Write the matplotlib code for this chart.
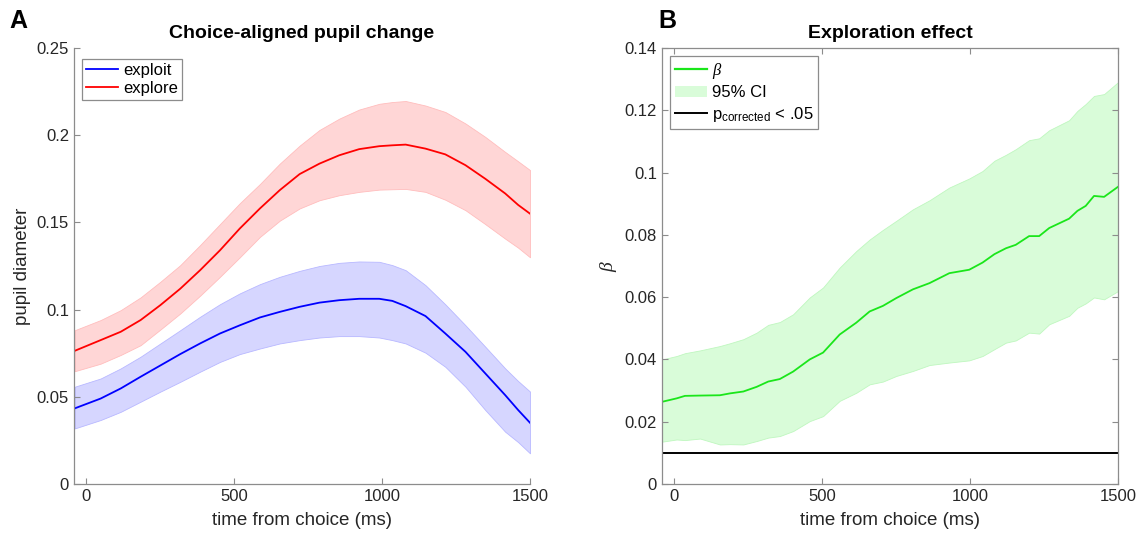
import numpy as np
import matplotlib.pyplot as plt
from matplotlib.patches import Patch
from matplotlib.lines import Line2D

plt.rcParams['font.family'] = ['Liberation Sans', 'DejaVu Sans']
plt.rcParams['mathtext.fontset'] = 'custom'
plt.rcParams['mathtext.it'] = 'Liberation Serif:italic'

# pupil time courses (ms from choice)
t_pupil = [-37, 50, 118, 185, 252, 319, 386, 453, 520, 588, 655, 722, 789,
           856, 923, 991, 1035, 1080, 1147, 1214, 1282, 1349, 1416, 1460, 1500]

explore_mean = [0.0764, 0.0825, 0.0873, 0.094, 0.1026, 0.112, 0.1226, 0.134,
                0.1465, 0.158, 0.1685, 0.1777, 0.1837, 0.1885, 0.192, 0.1937,
                0.1942, 0.1946, 0.1923, 0.189, 0.1828, 0.175, 0.1666, 0.160,
                0.155]
explore_hi = [0.0882, 0.094, 0.0997, 0.107, 0.116, 0.1255, 0.137, 0.149,
              0.161, 0.172, 0.1837, 0.194, 0.203, 0.2095, 0.2147, 0.218,
              0.219, 0.2196, 0.217, 0.2133, 0.2067, 0.199, 0.1904, 0.185,
              0.180]
explore_lo = [0.0647, 0.069, 0.074, 0.0796, 0.0886, 0.0978, 0.108, 0.1188,
              0.130, 0.1417, 0.151, 0.158, 0.1627, 0.1656, 0.1675, 0.1688,
              0.169, 0.1692, 0.1675, 0.163, 0.157, 0.149, 0.1407, 0.1355,
              0.130]

exploit_mean = [0.0434, 0.049, 0.0548, 0.0615, 0.068, 0.0745, 0.0806, 0.0863,
                0.091, 0.0955, 0.0987, 0.1016, 0.104, 0.1054, 0.1062, 0.1062,
                0.105, 0.102, 0.0963, 0.0863, 0.0758, 0.0634, 0.051, 0.0424,
                0.0351]
exploit_hi = [0.0558, 0.0605, 0.0663, 0.073, 0.0806, 0.0882, 0.0959, 0.1031,
              0.1093, 0.1146, 0.1188, 0.1222, 0.125, 0.1268, 0.1276, 0.1274,
              0.1255, 0.1226, 0.114, 0.103, 0.091, 0.0787, 0.0663, 0.059,
              0.053]
exploit_lo = [0.0319, 0.0367, 0.0414, 0.0472, 0.053, 0.0586, 0.0644, 0.070,
              0.0745, 0.0777, 0.0806, 0.0825, 0.084, 0.0848, 0.0848, 0.084,
              0.0825, 0.0806, 0.0753, 0.0672, 0.0558, 0.0424, 0.030, 0.024,
              0.0176]

# regression weight of exploration
t_beta = [-39, 10, 38, 89, 156, 190, 235, 280, 319, 358, 403, 459, 504, 560,
          616, 661, 706, 751, 807, 863, 930, 997, 1042, 1082, 1121, 1154,
          1199, 1233, 1267, 1334, 1362, 1390, 1418, 1452, 1500]
beta_mean = [0.0264, 0.0275, 0.0283, 0.0284, 0.0285, 0.0291, 0.0297, 0.0312,
             0.0329, 0.0337, 0.0361, 0.040, 0.0422, 0.048, 0.0518, 0.0554,
             0.0572, 0.0597, 0.0625, 0.0645, 0.0677, 0.0688, 0.0711, 0.0738,
             0.0757, 0.0768, 0.0796, 0.0796, 0.0822, 0.0852, 0.0877, 0.0893,
             0.0925, 0.0922, 0.0955]
beta_hi = [0.040, 0.0411, 0.042, 0.0429, 0.0443, 0.0452, 0.0465, 0.0486,
           0.0511, 0.052, 0.0545, 0.0599, 0.0631, 0.0695, 0.0748, 0.0785,
           0.0816, 0.0845, 0.0882, 0.0911, 0.0952, 0.0981, 0.1005, 0.1038,
           0.1057, 0.1075, 0.1104, 0.111, 0.1136, 0.1168, 0.1198, 0.122,
           0.1246, 0.1252, 0.1291]
beta_lo = [0.0136, 0.0143, 0.0141, 0.0146, 0.0127, 0.0128, 0.0127, 0.0138,
           0.0149, 0.0154, 0.017, 0.0202, 0.0218, 0.0267, 0.0293, 0.032,
           0.0329, 0.0347, 0.0363, 0.0382, 0.039, 0.0397, 0.0411, 0.0433,
           0.0454, 0.0461, 0.0486, 0.0483, 0.0513, 0.054, 0.0566, 0.058,
           0.0599, 0.0593, 0.062]
sig_level = 0.01

xticks = [0, 500, 1000, 1500]
axcol = '#8c8c8c'
txtcol = '#262626'

fig = plt.figure(figsize=(11.47, 5.35), dpi=100)
ax1 = fig.add_axes([0.0645, 0.0953, 0.3976, 0.815])
ax2 = fig.add_axes([0.577, 0.0953, 0.398, 0.815])


def style(ax, boxed):
    for side in ['left', 'bottom', 'top', 'right']:
        ax.spines[side].set_color(axcol)
        ax.spines[side].set_linewidth(0.9)
    if not boxed:
        ax.spines['top'].set_visible(False)
        ax.spines['right'].set_visible(False)
    ax.tick_params(direction='in', length=4, width=0.8, color=axcol,
                   labelcolor=txtcol, labelsize=12, top=boxed, right=boxed)
    ax.set_xlim(-40, 1500)
    ax.set_xticks(xticks)
    ax.set_xlabel('time from choice (ms)', fontsize=13.5, color=txtcol,
                  labelpad=6)


# panel A
ax1.fill_between(t_pupil, exploit_lo, exploit_hi, facecolor=(0.84, 0.84, 1.0),
                 edgecolor=(0.72, 0.72, 1.0), linewidth=0.6)
ax1.fill_between(t_pupil, explore_lo, explore_hi, facecolor=(1.0, 0.84, 0.84),
                 edgecolor=(1.0, 0.74, 0.74), linewidth=0.6)
ax1.plot(t_pupil, exploit_mean, color='blue', lw=1.3, label='exploit')
ax1.plot(t_pupil, explore_mean, color='red', lw=1.3, label='explore')
style(ax1, False)
ax1.set_ylim(0, 0.25)
ax1.set_yticks([0, 0.05, 0.1, 0.15, 0.2, 0.25])
ax1.set_yticklabels(['0', '0.05', '0.1', '0.15', '0.2', '0.25'])
ax1.set_ylabel('pupil diameter', fontsize=13.5, color=txtcol)
ax1.set_title('Choice-aligned pupil change', fontsize=14, fontweight='bold', pad=7)
leg1 = ax1.legend(loc='upper left', fontsize=12, fancybox=False, framealpha=1,
                  edgecolor=axcol, handlelength=1.9, handletextpad=0.3,
                  borderpad=0.25, labelspacing=0.2, bbox_to_anchor=(0.0, 0.995))
leg1.get_frame().set_linewidth(0.9)

# panel B
ax2.fill_between(t_beta, beta_lo, beta_hi, facecolor=(0.85, 0.99, 0.85),
                 edgecolor=(0.75, 0.97, 0.75), linewidth=0.6)
ax2.plot(t_beta, beta_mean, color=(0.1, 0.9, 0.1), lw=1.3)
ax2.axhline(sig_level, color='black', lw=1.4)
style(ax2, True)
ax2.set_ylim(0, 0.14)
ax2.set_yticks([0, 0.02, 0.04, 0.06, 0.08, 0.1, 0.12, 0.14])
ax2.set_yticklabels(['0', '0.02', '0.04', '0.06', '0.08', '0.1', '0.12', '0.14'])
ax2.set_ylabel(r'$\mathit{\beta}$', fontsize=14, color=txtcol)
ax2.set_title('Exploration effect', fontsize=14, fontweight='bold', pad=7)
handles = [Line2D([], [], color=(0.1, 0.9, 0.1), lw=1.6),
           Patch(facecolor=(0.85, 0.99, 0.85), edgecolor='none'),
           Line2D([], [], color='black', lw=1.4)]
labels = [r'$\mathit{\beta}$', '95% CI', r'p$_{\mathregular{corrected}}$ < .05']
leg2 = ax2.legend(handles, labels, loc='upper left', fontsize=12, fancybox=False,
                  framealpha=1, edgecolor=axcol, handlelength=1.9,
                  handletextpad=0.3, borderpad=0.3, labelspacing=0.25,
                  bbox_to_anchor=(0.0, 1.0))
leg2.get_frame().set_linewidth(0.9)

fig.text(0.008, 0.947, 'A', fontsize=18, fontweight='bold')
fig.text(0.574, 0.947, 'B', fontsize=18, fontweight='bold')

fig.savefig('out.png', dpi=100)
